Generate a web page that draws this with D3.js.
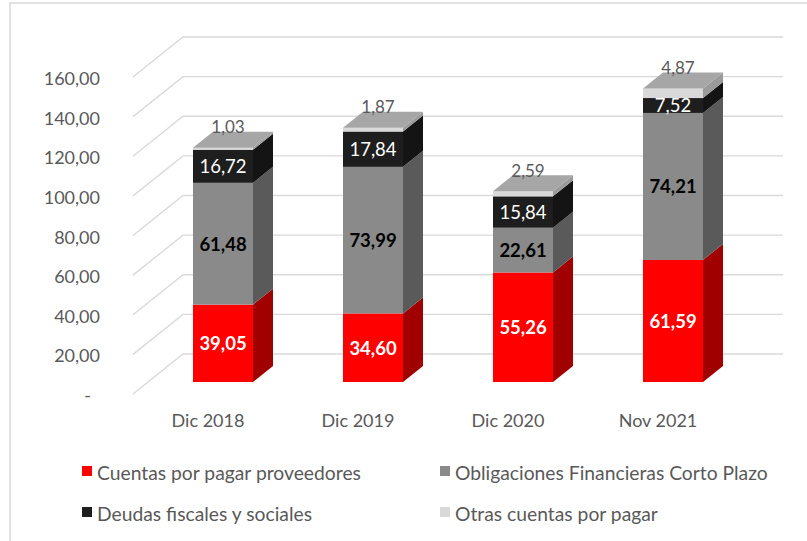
<!DOCTYPE html>
<html>
<head>
<meta charset="utf-8">
<script src="https://cdn.jsdelivr.net/npm/d3@7"></script>
<style>
  html, body { margin: 0; padding: 0; background: #fff; }
  svg { display: block; font-family: Lato, "Open Sans", sans-serif; }
</style>
</head>
<body>
<div id="chart"></div>
<script>
// data
var categories = ["Dic 2018", "Dic 2019", "Dic 2020", "Nov 2021"];
var seriesNames = ["Cuentas por pagar proveedores", "Obligaciones Financieras Corto Plazo",
                   "Deudas fiscales y sociales", "Otras cuentas por pagar"];
var cuentas = [39.05, 34.60, 55.26, 61.59];
var obligaciones = [61.48, 73.99, 22.61, 74.21];
var deudas = [16.72, 17.84, 15.84, 7.52];
var otras = [1.03, 1.87, 2.59, 4.87];
var yTicks = [0, 20, 40, 60, 80, 100, 120, 140, 160];

var W = 807, H = 541;
var DX = 50, DY = 40;          // depth of the 3d box (floor to back wall)
var barT0 = 0.3, barT1 = 0.7;  // bar position inside the depth

var keys = ["c", "o", "d", "t"];
var colors = {
  c: {front: "#ff0000", side: "#a00000", top: "#c80000", label: "#ffffff", bold: true},
  o: {front: "#8a8a8a", side: "#5a5a5a", top: "#a6a6a6", label: "#000000", bold: true},
  d: {front: "#1e1e1e", side: "#141414", top: "#3a3a3a", label: "#ffffff", bold: false},
  t: {front: "#d9d9d9", side: "#9a9a9a", top: "#a6a6a6", label: "#595959", bold: false}
};

var table = categories.map(function (cat, i) {
  return {cat: cat, c: cuentas[i], o: obligaciones[i], d: deudas[i], t: otras[i]};
});
var stacked = d3.stack().keys(keys)(table);

var loc = d3.formatLocale({decimal: ",", thousands: ".", grouping: [3], currency: ["", ""]});
var fmt = loc.format(",.2f");

var x = d3.scaleBand().domain(categories).range([133, 733]).paddingInner(0.6).paddingOuter(0.3);
var y = d3.scaleLinear().domain([0, 160]).range([394, 77]);

var svg = d3.select("#chart").append("svg").attr("width", W).attr("height", H);

// chart frame (only top/left visible)
svg.append("path").attr("d", "M10," + H + "V3H" + W)
  .attr("fill", "none").attr("stroke", "#d9d9d9").attr("stroke-width", 1.5);

// gridlines: left wall diagonal + back wall horizontal
var grid = svg.append("g");
yTicks.forEach(function (v) {
  var yy = y(v);
  grid.append("path")
    .attr("d", "M" + x.range()[0] + "," + yy + "L" + (x.range()[0] + DX) + "," + (yy - DY) + "H" + (x.range()[1] + DX))
    .attr("fill", "none").attr("stroke", "#d9d9d9").attr("stroke-width", 1.3);
});

// y axis labels
svg.append("g").selectAll("text").data(yTicks).enter().append("text")
  .attr("x", function (v) { return v === 0 ? 91 : 100; })
  .attr("y", function (v) { return y(v) + 1; })
  .attr("text-anchor", "end").attr("dominant-baseline", "central")
  .attr("font-size", 18).attr("fill", "#595959")
  .text(function (v) { return v === 0 ? "-" : fmt(v); });

// category labels
svg.append("g").selectAll("text").data(categories).enter().append("text")
  .attr("x", function (c) { return x(c) + x.bandwidth() / 2; })
  .attr("y", 420)
  .attr("text-anchor", "middle").attr("dominant-baseline", "central")
  .attr("font-size", 18).attr("fill", "#595959")
  .text(function (c) { return c; });

// bars
var fx = barT0 * DX, fy = barT0 * DY;
var sx = (barT1 - barT0) * DX, sy = (barT1 - barT0) * DY;
var bars = svg.append("g");
categories.forEach(function (cat, i) {
  var g = bars.append("g");
  var x0 = x(cat) + fx, x1 = x0 + x.bandwidth();
  stacked.forEach(function (s) {
    var y0 = y(s[i][0]) - fy, y1 = y(s[i][1]) - fy;
    var col = colors[s.key];
    g.append("path")
      .attr("d", "M" + x1 + "," + y0 + "L" + (x1 + sx) + "," + (y0 - sy) + "L" + (x1 + sx) + "," + (y1 - sy) + "L" + x1 + "," + y1 + "Z")
      .attr("fill", col.side);
    g.append("rect").attr("x", x0).attr("y", y1).attr("width", x1 - x0).attr("height", y0 - y1)
      .attr("fill", col.front);
  });
  var top = stacked[stacked.length - 1];
  var yt = y(top[i][1]) - fy;
  g.append("path")
    .attr("d", "M" + x0 + "," + yt + "L" + x1 + "," + yt + "L" + (x1 + sx) + "," + (yt - sy) + "L" + (x0 + sx) + "," + (yt - sy) + "Z")
    .attr("fill", colors[top.key].top);
});

// segment labels
var labels = svg.append("g").attr("text-anchor", "middle").attr("dominant-baseline", "central");
stacked.forEach(function (s, si) {
  var col = colors[s.key];
  var last = si === stacked.length - 1;
  s.forEach(function (d, i) {
    var cx = x(categories[i]) + x.bandwidth() / 2 + fx;
    var cy = last ? y(d[1]) - fy - 21 : (y(d[0]) + y(d[1])) / 2 - fy;
    labels.append("text")
      .attr("x", last ? cx + 5 : cx).attr("y", cy)
      .attr("font-size", last ? 17 : 18.5)
      .attr("font-weight", col.bold ? "bold" : "normal")
      .attr("fill", col.label)
      .text(fmt(d[1] - d[0]));
  });
});

// legend
var legCols = [82, 440], legRows = [471, 512];
var leg = svg.append("g").selectAll("g").data(keys).enter().append("g")
  .attr("transform", function (k, i) { return "translate(" + legCols[i % 2] + "," + legRows[Math.floor(i / 2)] + ")"; });
leg.append("rect").attr("x", 0).attr("y", -5).attr("width", 10).attr("height", 10)
  .attr("fill", function (k) { return colors[k].front; });
leg.append("text").attr("x", 15).attr("y", 1).attr("dominant-baseline", "central")
  .attr("font-size", 19.3).attr("fill", "#595959")
  .text(function (k, i) { return seriesNames[i]; });
</script>
</body>
</html>
